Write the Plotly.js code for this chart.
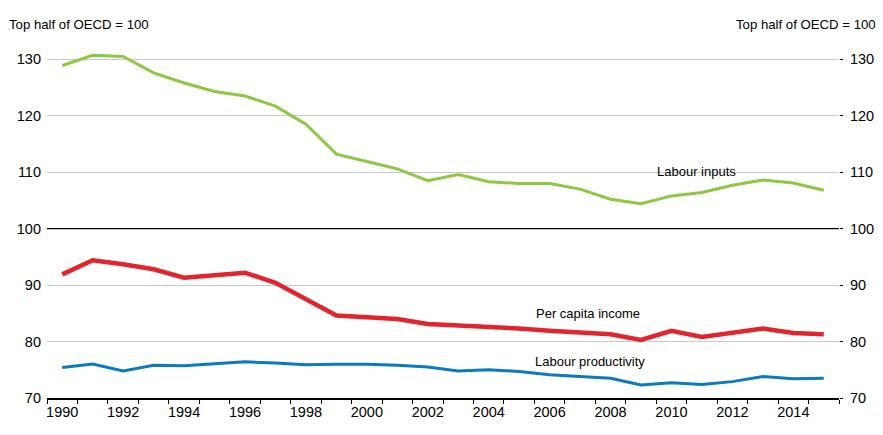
<!DOCTYPE html>
<html>
<head>
<meta charset="utf-8">
<script src="https://cdn.plot.ly/plotly-3.0.1.min.js"></script>
<style>
  html, body { margin: 0; padding: 0; background: #fff; }
  #plotDiv { width: 883px; height: 435px; }
</style>
</head>
<body>
<div id="plotDiv"></div>
<script>
// Index, top half of OECD = 100
const years = [1990, 1991, 1992, 1993, 1994, 1995, 1996, 1997, 1998, 1999, 2000, 2001, 2002,
  2003, 2004, 2005, 2006, 2007, 2008, 2009, 2010, 2011, 2012, 2013, 2014, 2015];

const labourInputs = [128.9, 130.7, 130.5, 127.6, 125.8, 124.3, 123.5, 121.7, 118.5, 113.2, 111.9, 110.6, 108.5,
  109.6, 108.3, 108.0, 108.0, 107.0, 105.2, 104.4, 105.8, 106.4, 107.7, 108.6, 108.1, 106.8];

const perCapitaIncome = [91.9, 94.4, 93.7, 92.8, 91.3, 91.8, 92.2, 90.4, 87.4, 84.6, 84.3, 84.0, 83.1,
  82.9, 82.6, 82.3, 81.9, 81.6, 81.3, 80.3, 81.9, 80.8, 81.5, 82.3, 81.5, 81.3];

const labourProductivity = [75.4, 76.0, 74.8, 75.8, 75.7, 76.0, 76.4, 76.2, 75.9, 76.0, 76.0, 75.8, 75.5,
  74.8, 75.0, 74.7, 74.1, 73.8, 73.5, 72.3, 72.7, 72.4, 72.9, 73.8, 73.4, 73.5];

const yTicks = [70, 80, 90, 100, 110, 120, 130];
const xTickYears = [1990, 1992, 1994, 1996, 1998, 2000, 2002, 2004, 2006, 2008, 2010, 2012, 2014];

const FONT = "'Arial Narrow', 'Liberation Sans', Arial, sans-serif";

const traces = [
  { x: years, y: labourInputs, type: "scatter", mode: "lines", name: "Labour inputs",
    line: { color: "#8CC841", width: 3 } },
  { x: years, y: perCapitaIncome, type: "scatter", mode: "lines", name: "Per capita income",
    line: { color: "#E3242B", width: 4.5 } },
  { x: years, y: labourProductivity, type: "scatter", mode: "lines", name: "Labour productivity",
    line: { color: "#0A7BC1", width: 3 } },
  // invisible trace so the right axis shows
  { x: years, y: labourInputs, yaxis: "y2", type: "scatter", mode: "lines",
    line: { width: 0 }, hoverinfo: "skip", showlegend: false, opacity: 0 },
];

const layout = {
  width: 883,
  height: 435,
  margin: { l: 47, r: 44, t: 48, b: 37 },
  paper_bgcolor: "#fff",
  plot_bgcolor: "#fff",
  showlegend: false,
  font: { family: FONT, size: 14, color: "#000" },
  xaxis: {
    type: "linear",
    range: [1989.5, 2015.5],
    tickmode: "array",
    tickvals: xTickYears,
    ticktext: xTickYears.map(String),
    ticks: "",
    showgrid: false,
    zeroline: false,
    showline: true,
    linecolor: "#000",
    linewidth: 1.5,
    minor: { tick0: 1989.5, dtick: 1, ticks: "outside", ticklen: 4, tickcolor: "#000", tickwidth: 1, showgrid: false },
    tickfont: { family: FONT, size: 14.5, color: "#000" },
  },
  yaxis: {
    range: [70, 132],
    tickmode: "array",
    tickvals: yTicks,
    ticks: "",
    showgrid: true,
    gridcolor: "#c8c8c8",
    gridwidth: 1,
    zeroline: false,
    showline: false,
    ticklabelstandoff: 5,
    tickfont: { family: FONT, size: 14.5, color: "#000" },
  },
  yaxis2: {
    range: [70, 132],
    overlaying: "y",
    side: "right",
    tickmode: "array",
    tickvals: yTicks,
    ticks: "outside",
    ticklen: 3,
    tickcolor: "#000",
    showgrid: false,
    zeroline: false,
    showline: false,
    ticklabelstandoff: 4,
    tickfont: { family: FONT, size: 14.5, color: "#000" },
  },
  shapes: [
    { type: "line", xref: "paper", yref: "y", x0: 0, x1: 1, y0: 100, y1: 100,
      line: { color: "#000", width: 1.2 } },
  ],
  annotations: [
    { text: "Top half of OECD = 100", xref: "paper", yref: "paper", x: -0.0505, y: 1.066,
      xanchor: "left", yanchor: "middle", showarrow: false, font: { family: FONT, size: 13.2, color: "#000" } },
    { text: "Top half of OECD = 100", xref: "paper", yref: "paper", x: 1.049, y: 1.066,
      xanchor: "right", yanchor: "middle", showarrow: false, font: { family: FONT, size: 13.2, color: "#000" } },
    { text: "Labour inputs", x: 2010.83, y: 110.05, xanchor: "center", yanchor: "middle",
      showarrow: false, font: { family: FONT, size: 13, color: "#000" } },
    { text: "Per capita income", x: 2007.25, y: 84.9, xanchor: "center", yanchor: "middle",
      showarrow: false, font: { family: FONT, size: 13, color: "#000" } },
    { text: "Labour productivity", x: 2007.34, y: 76.4, xanchor: "center", yanchor: "middle",
      showarrow: false, font: { family: FONT, size: 13, color: "#000" } },
  ],
};

Plotly.newPlot("plotDiv", traces, layout, { displayModeBar: false, staticPlot: true });
</script>
</body>
</html>
